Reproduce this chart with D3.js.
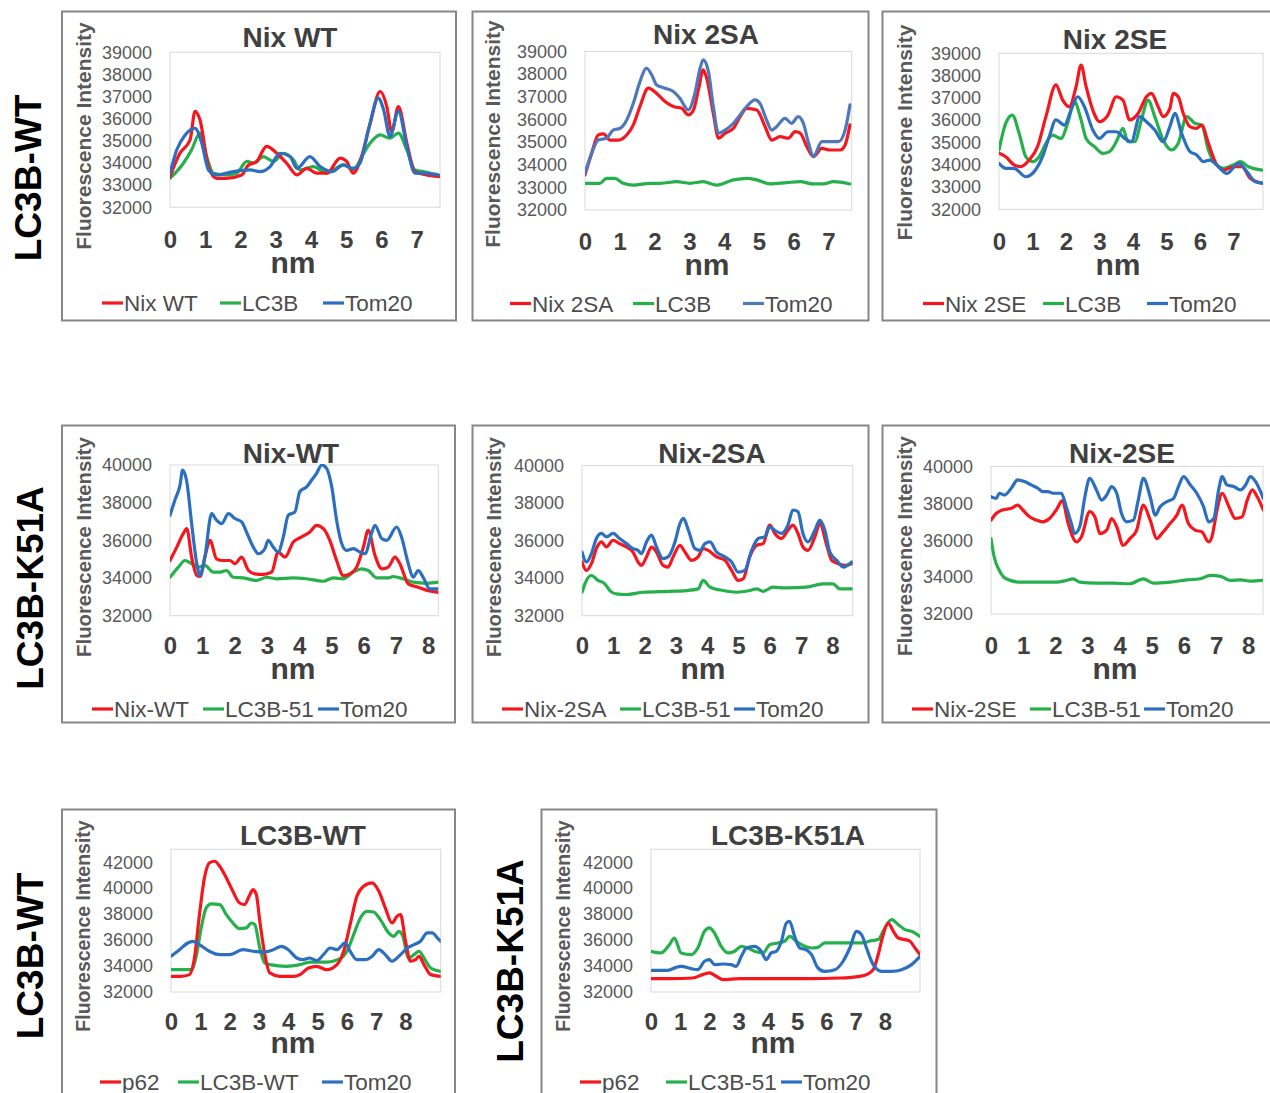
<!DOCTYPE html>
<html>
<head>
<meta charset="utf-8">
<script src="https://cdn.jsdelivr.net/npm/d3@7"></script>
<style>
  body { margin: 0; background: #fff; }
  svg { display: block; }
  text { font-family: "Liberation Sans", Arial, Helvetica, sans-serif; }
</style>
</head>
<body>
<svg id="fig" width="1270" height="1093"></svg>
<script>
// ---- Line-scan profiles: [distance (nm), fluorescence intensity] ----

// Row 1 (LC3B-WT): Nix WT
const p1Nix = [[0,33390],[0.28,34440],[0.57,35050],[0.71,36330],[0.85,35950],[1.09,33840],[1.32,33310],[1.6,33310],[2.03,33460],[2.22,33900],[2.46,34070],[2.74,34750],[3.03,34440],[3.31,33990],[3.6,33460],[3.88,33760],[4.16,33540],[4.45,33540],[4.83,34220],[5.01,34070],[5.2,33540],[5.39,34070],[5.68,35800],[5.96,37230],[6.15,36550],[6.29,35420],[6.48,36550],[6.72,34900],[6.95,33610],[7.28,33460],[7.62,33390]];
const p1LC3B = [[0,33310],[0.38,33990],[0.61,34590],[0.85,35350],[1.04,34290],[1.23,33540],[1.6,33460],[1.89,33540],[2.18,34070],[2.37,33990],[2.65,34290],[2.93,34070],[3.22,34440],[3.5,34140],[3.69,33690],[4.07,33840],[4.45,33540],[4.64,33690],[4.92,33920],[5.2,33690],[5.49,34440],[5.68,34900],[5.96,35270],[6.24,35120],[6.48,35350],[6.72,34590],[6.95,33690],[7.19,33610],[7.62,33390]];
const p1Tom20 = [[0,33540],[0.19,34590],[0.43,35270],[0.71,35570],[0.9,34900],[1.09,33690],[1.32,33460],[1.8,33610],[2.27,33690],[2.55,33610],[2.84,33840],[3.12,34440],[3.41,34290],[3.6,33760],[3.97,34290],[4.26,33840],[4.59,33610],[4.92,33920],[5.2,33760],[5.39,33990],[5.63,35500],[5.91,36930],[6.06,36400],[6.24,35200],[6.48,36330],[6.72,34750],[6.95,33540],[7.28,33540],[7.62,33460]];

// Row 1: Nix 2SA
const p2Nix = [[0,33550],[0.19,34500],[0.38,35310],[0.53,35360],[0.72,35090],[0.96,35090],[1.2,35310],[1.39,35760],[1.58,36570],[1.82,37380],[2.06,37150],[2.3,36790],[2.54,36570],[2.78,36490],[2.97,36200],[3.12,36420],[3.26,37300],[3.4,38190],[3.5,37820],[3.69,36270],[3.84,35170],[4.03,35390],[4.27,35610],[4.46,36120],[4.65,36490],[4.94,36420],[5.18,35680],[5.37,35090],[5.61,35240],[5.85,35170],[6.04,35460],[6.19,35390],[6.38,34800],[6.57,34360],[6.81,34720],[7.05,34650],[7.34,34650],[7.48,34870],[7.62,35760]];
const p2LC3B = [[0,33180],[0.43,33180],[0.62,33400],[0.86,33400],[1.1,33180],[1.39,33100],[1.87,33180],[2.16,33180],[2.64,33250],[3.02,33180],[3.4,33250],[3.79,33100],[4.27,33330],[4.65,33400],[4.94,33330],[5.32,33150],[5.8,33210],[6.19,33250],[6.57,33150],[6.86,33150],[7.15,33250],[7.62,33150]];
const p2Tom20 = [[0,33620],[0.19,34500],[0.38,35090],[0.62,35170],[0.81,35530],[1.01,35610],[1.2,35980],[1.39,36710],[1.58,37670],[1.77,38260],[1.92,37960],[2.06,37520],[2.3,37380],[2.54,37230],[2.73,36930],[2.97,36420],[3.16,37150],[3.31,38260],[3.4,38630],[3.55,38110],[3.69,36570],[3.84,35390],[4.03,35530],[4.27,35830],[4.46,36200],[4.65,36570],[4.89,36860],[5.03,36710],[5.22,35980],[5.37,35530],[5.51,35680],[5.75,36050],[5.94,35830],[6.13,36120],[6.28,35830],[6.43,34950],[6.57,34360],[6.81,35020],[7.05,35020],[7.29,35020],[7.48,35530],[7.62,36640]];

// Row 1: Nix 2SE
const p3Nix = [[0,34510],[0.2,34360],[0.45,33990],[0.65,33910],[0.9,34210],[1.15,34810],[1.4,36160],[1.7,37580],[1.9,36900],[2.1,36600],[2.3,37500],[2.45,38470],[2.6,37500],[2.8,36450],[3.0,35930],[3.25,36230],[3.5,37050],[3.7,36900],[3.9,36010],[4.15,36300],[4.4,37050],[4.55,37200],[4.75,36600],[4.9,36160],[5.1,36530],[5.2,37200],[5.35,37050],[5.5,36300],[5.7,35710],[5.9,35630],[6.05,35780],[6.25,34960],[6.45,34140],[6.7,33760],[7.0,33910],[7.25,33910],[7.5,33390],[7.85,33170]];
const p3LC3B = [[0,34660],[0.2,35860],[0.4,36230],[0.6,35410],[0.8,34360],[1.0,34140],[1.2,34360],[1.4,34960],[1.6,35330],[1.85,35180],[2.05,35860],[2.25,36830],[2.45,36010],[2.6,35180],[2.85,34810],[3.1,34510],[3.3,34590],[3.5,35030],[3.7,35630],[3.85,35030],[4.05,35030],[4.25,36010],[4.45,36900],[4.65,36160],[4.9,35110],[5.15,34660],[5.35,34960],[5.6,36160],[5.85,35860],[6.05,35780],[6.25,34660],[6.45,34060],[6.7,33840],[7.0,33990],[7.2,34140],[7.45,33910],[7.85,33760]];
const p3Tom20 = [[0,34060],[0.2,33840],[0.45,33840],[0.8,33460],[1.05,33690],[1.3,34360],[1.5,35260],[1.7,36010],[1.95,35780],[2.15,36450],[2.35,37050],[2.55,36600],[2.8,35560],[3.0,35180],[3.25,35480],[3.5,35480],[3.75,35180],[3.95,35030],[4.2,36160],[4.4,35930],[4.65,35560],[4.9,35030],[5.1,35710],[5.25,36300],[5.45,35410],[5.7,34590],[5.9,34440],[6.1,34140],[6.3,34210],[6.5,33990],[6.8,33610],[7.15,34060],[7.4,33690],[7.65,33240],[7.88,33170]];

// Row 2 (LC3B-K51A): Nix-WT
const p4Nix = [[0,34930],[0.21,35640],[0.41,36360],[0.52,36620],[0.67,35110],[0.83,34130],[0.93,34080],[1.08,35110],[1.24,36000],[1.44,35020],[1.65,34930],[1.86,34930],[2.01,34760],[2.22,35110],[2.43,34400],[2.63,34220],[2.89,34190],[3.15,34310],[3.35,35380],[3.56,35110],[3.82,35910],[4.08,36180],[4.33,36440],[4.54,36800],[4.75,36620],[4.95,36000],[5.16,34930],[5.37,34130],[5.57,34220],[5.78,34580],[5.99,35640],[6.14,36530],[6.35,35200],[6.56,34490],[6.76,34580],[6.97,35110],[7.12,34760],[7.38,33690],[7.69,33510],[8.0,33330],[8.31,33240]];
const p4LC3B = [[0,34040],[0.26,34580],[0.46,34930],[0.67,34760],[0.88,34580],[1.08,34670],[1.34,34310],[1.55,34310],[1.75,34400],[1.96,34040],[2.27,34010],[2.68,33870],[2.99,34040],[3.3,33960],[3.82,34010],[4.23,33960],[4.75,33830],[5.06,34010],[5.37,33960],[5.68,34310],[5.93,34490],[6.14,34400],[6.4,34010],[6.76,34010],[6.91,34080],[7.22,33960],[7.53,33780],[7.95,33720],[8.31,33780]];
const p4Tom20 = [[0,37330],[0.15,38130],[0.31,38930],[0.39,39730],[0.52,39110],[0.67,36890],[0.83,34760],[0.93,34130],[1.08,35110],[1.29,37420],[1.44,37070],[1.6,36890],[1.81,37420],[2.01,37160],[2.22,36980],[2.37,36440],[2.58,35640],[2.74,35290],[2.94,35560],[3.04,36000],[3.2,35640],[3.35,35380],[3.51,36180],[3.66,37330],[3.87,37510],[4.02,38580],[4.23,38840],[4.39,39200],[4.54,39560],[4.7,40000],[4.85,39820],[5.01,38840],[5.16,37070],[5.32,35820],[5.47,35470],[5.68,35560],[5.88,35380],[6.04,35290],[6.24,36360],[6.35,36800],[6.56,36090],[6.71,36000],[7.02,36710],[7.17,36180],[7.38,34760],[7.53,34040],[7.69,34400],[7.84,34040],[8.05,33420],[8.31,33420]];

// Row 2: Nix-2SA
const p5Nix = [[0,34860],[0.14,34410],[0.3,34770],[0.46,35570],[0.62,35930],[0.78,35660],[0.99,36020],[1.2,35840],[1.42,35660],[1.63,35390],[1.79,34860],[1.9,34680],[2.06,35130],[2.22,35660],[2.38,35390],[2.59,34680],[2.75,34590],[2.91,35130],[3.13,35750],[3.29,35390],[3.5,34950],[3.71,35130],[3.87,35570],[4.03,35480],[4.3,35130],[4.57,34950],[4.78,34410],[4.99,33880],[5.15,33960],[5.36,35130],[5.58,35750],[5.79,35840],[6.0,36820],[6.16,36380],[6.37,36110],[6.58,36550],[6.74,36820],[6.9,36380],[7.06,35660],[7.22,35480],[7.44,36200],[7.6,36910],[7.82,35750],[7.98,34950],[8.19,34770],[8.41,34680],[8.62,34770]];
const p5LC3B = [[0,33250],[0.14,33880],[0.3,34140],[0.51,33880],[0.73,33700],[0.89,33340],[1.1,33160],[1.42,33130],[1.95,33250],[2.81,33300],[3.34,33340],[3.71,33430],[3.87,33880],[4.09,33520],[4.51,33340],[4.94,33250],[5.36,33340],[5.58,33430],[5.79,33300],[6.1,33520],[6.53,33480],[7.17,33520],[7.7,33700],[8.02,33700],[8.24,33430],[8.62,33430]];
const p5Tom20 = [[0,35390],[0.14,34860],[0.3,35300],[0.46,36110],[0.62,36380],[0.78,36200],[0.99,36380],[1.2,36110],[1.42,35840],[1.63,35570],[1.79,35480],[1.9,35300],[2.06,35930],[2.22,36290],[2.38,35660],[2.59,35040],[2.75,35130],[2.97,35930],[3.13,36910],[3.24,37180],[3.4,36550],[3.61,35570],[3.77,35480],[3.93,35840],[4.09,35930],[4.3,35390],[4.57,35130],[4.78,34860],[4.99,34320],[5.2,34410],[5.42,35480],[5.63,36110],[5.84,36200],[6.0,36730],[6.16,36550],[6.37,36380],[6.58,36820],[6.74,37630],[6.9,37540],[7.06,36380],[7.22,35930],[7.44,36550],[7.6,37090],[7.76,36550],[7.92,35390],[8.14,34950],[8.35,34590],[8.62,34860]];

// Row 2: Nix-2SE
const p6Nix = [[0,37090],[0.16,37450],[0.36,37640],[0.63,37730],[0.83,37910],[0.99,37640],[1.2,37270],[1.41,37090],[1.61,37000],[1.82,37180],[2.03,37640],[2.22,38150],[2.4,36910],[2.66,35910],[2.81,36180],[3.07,37550],[3.23,37270],[3.39,36360],[3.6,36550],[3.75,37180],[3.91,36730],[4.11,35730],[4.32,36090],[4.53,36550],[4.74,37910],[4.95,37090],[5.16,36090],[5.31,36360],[5.57,36910],[5.78,37360],[5.94,37910],[6.14,36910],[6.35,36550],[6.56,36450],[6.77,35910],[6.87,36180],[7.03,37640],[7.19,38550],[7.4,37820],[7.6,37180],[7.81,37270],[7.97,38180],[8.13,38730],[8.28,38360],[8.47,37640]];
const p6LC3B = [[0,36090],[0.1,35090],[0.26,34360],[0.47,33910],[0.89,33730],[1.51,33730],[2.03,33730],[2.34,33820],[2.55,33910],[2.76,33730],[3.28,33670],[3.8,33670],[4.32,33640],[4.74,33910],[5.05,33670],[5.57,33730],[6.09,33850],[6.51,33910],[6.82,34090],[7.14,34040],[7.45,33820],[7.76,33850],[8.07,33780],[8.47,33820]];
const p6Tom20 = [[0,38360],[0.16,38270],[0.26,38550],[0.42,38450],[0.63,38820],[0.83,39270],[1.04,39180],[1.25,39000],[1.46,38820],[1.61,38640],[1.77,38640],[1.93,38550],[2.19,38550],[2.34,37820],[2.5,36910],[2.6,36360],[2.76,36730],[2.92,38360],[3.07,39360],[3.28,38730],[3.44,38180],[3.6,38450],[3.75,38910],[3.91,38550],[4.06,37450],[4.22,37000],[4.43,37090],[4.58,38180],[4.74,39360],[4.95,38360],[5.11,37360],[5.26,37820],[5.47,38090],[5.68,38270],[5.83,38910],[5.99,39450],[6.2,39000],[6.4,38550],[6.61,37820],[6.77,37000],[6.93,37180],[7.08,38730],[7.19,39450],[7.34,39000],[7.55,38910],[7.76,38730],[7.92,39000],[8.07,39450],[8.23,39180],[8.47,38270]];

// Row 3: LC3B-WT with p62
const p7P62 = [[0,33210],[0.34,33210],[0.63,33340],[0.8,34620],[0.97,37960],[1.14,40790],[1.31,41950],[1.49,42080],[1.66,41690],[1.89,40790],[2.11,39760],[2.34,38860],[2.51,38740],[2.69,39510],[2.8,39890],[2.91,39510],[3.03,37450],[3.2,34880],[3.37,33470],[3.71,33210],[4.17,33210],[4.4,33340],[4.69,33850],[4.97,33980],[5.31,33720],[5.66,34110],[5.89,35140],[6.11,37190],[6.34,39380],[6.57,40150],[6.86,40410],[7.09,39760],[7.31,38480],[7.54,37320],[7.71,37840],[7.83,37960],[8.0,35910],[8.17,34370],[8.34,34490],[8.46,34750],[8.63,34110],[8.86,33340],[9.2,33210]];
const p7LC3B = [[0,33720],[0.4,33720],[0.69,33720],[0.86,34750],[1.03,36940],[1.2,38480],[1.37,38790],[1.66,38740],[1.89,37960],[2.11,37320],[2.34,36880],[2.57,36940],[2.74,37320],[2.86,37190],[3.03,35390],[3.2,34240],[3.37,34110],[3.94,33980],[4.4,34110],[4.74,34310],[5.31,34310],[5.77,34570],[6.0,35140],[6.23,36420],[6.46,37710],[6.69,38220],[6.91,38170],[7.14,37580],[7.43,36550],[7.6,36290],[7.77,36680],[7.89,36420],[8.11,34620],[8.29,34880],[8.46,35140],[8.63,34620],[8.86,33850],[9.2,33590]];
const p7Tom20 = [[0,34750],[0.29,35260],[0.57,35780],[0.74,35910],[0.97,35650],[1.31,35140],[1.66,34880],[2.0,34880],[2.46,35260],[2.8,35140],[3.14,35080],[3.49,35260],[3.77,35520],[4.0,35260],[4.29,34620],[4.51,34490],[4.74,34620],[4.97,34420],[5.2,34880],[5.43,35390],[5.66,35260],[5.94,35780],[6.11,35140],[6.34,34490],[6.63,34490],[6.86,34750],[7.09,35260],[7.31,34880],[7.54,34370],[7.83,34880],[8.06,35390],[8.29,35650],[8.51,35910],[8.74,36550],[8.91,36550],[9.09,36160],[9.2,35910]];

// Row 3: LC3B-K51A with p62
const p8P62 = [[0,33030],[0.74,33030],[1.43,33080],[1.77,33340],[2.0,33470],[2.23,33210],[2.46,32950],[3.03,33030],[4.17,33030],[5.31,33030],[6.46,33080],[7.14,33210],[7.37,33340],[7.6,33720],[7.77,34880],[7.94,36420],[8.11,37320],[8.29,36680],[8.46,36160],[8.69,36040],[8.86,35910],[9.03,35390],[9.2,34880]];
const p8LC3B = [[0,35140],[0.34,35010],[0.63,35650],[0.8,36160],[1.03,35010],[1.37,34880],[1.6,35390],[1.83,36680],[2.0,36940],[2.17,36550],[2.4,35520],[2.63,35010],[2.86,35140],[3.09,35520],[3.31,35390],[3.54,35140],[3.83,35010],[4.06,35650],[4.34,35780],[4.57,35910],[4.74,36290],[4.97,35910],[5.26,35520],[5.49,35390],[5.71,35440],[5.94,35780],[6.29,35780],[6.74,35780],[7.2,35780],[7.54,35960],[7.77,36040],[8.0,36940],[8.23,37580],[8.46,37190],[8.69,36810],[8.91,36680],[9.2,36290]];
const p8Tom20 = [[0,33670],[0.57,33670],[0.86,33900],[1.03,33980],[1.37,33800],[1.6,33720],[1.83,34370],[2.0,34490],[2.17,34110],[2.46,34160],[2.74,34110],[2.91,33980],[3.09,34750],[3.26,35390],[3.54,35520],[3.77,35140],[3.94,34490],[4.11,35010],[4.29,35140],[4.46,35910],[4.63,37320],[4.74,37450],[4.91,36290],[5.09,35390],[5.31,35260],[5.49,34880],[5.71,33850],[5.94,33590],[6.29,33720],[6.57,34370],[6.8,35390],[7.03,36680],[7.2,36420],[7.37,35390],[7.6,34110],[7.89,33590],[8.23,33590],[8.57,33720],[8.91,34110],[9.2,34750]];

// ---- Axis tick labels ----
const yTicksRow1 = [32000, 33000, 34000, 35000, 36000, 37000, 38000, 39000];
const yTicksRow2 = [32000, 34000, 36000, 38000, 40000];
const yTicksRow3 = [32000, 34000, 36000, 38000, 40000, 42000];
const xTicks0to7 = [0, 1, 2, 3, 4, 5, 6, 7];
const xTicks0to8 = [0, 1, 2, 3, 4, 5, 6, 7, 8];

// ---- Series colours ----
const RED = "#f5161e", GREEN = "#25b04b", BLUE = "#2c6ec0", STEEL = "#4f78ba";

const panels = [
  { title: "Nix WT", titleX: 290, titleY: 47, box: [62, 11.5, 394, 309],
    xr: [170, 440], xMax: 7.66, yr: [207.3, 52.3], yDom: [32000, 39000], yTicks: yTicksRow1, xTicks: xTicks0to7,
    xTickBase: 248, nmX: 293, nmY: 273, yTitle: "Fluorescence Intensity", ytX: 84, ytY: 136, ytSize: 21,
    names: ["Nix WT", "LC3B", "Tom20"], series: [p1Nix, p1LC3B, p1Tom20], colors: [RED, GREEN, BLUE],
    legX: [102, 220, 323], legY: 311 },
  { title: "Nix 2SA", titleX: 706, titleY: 43.5, box: [472.5, 11.5, 396, 309],
    xr: [585, 851.7], xMax: 7.67, yr: [210, 51.5], yDom: [32000, 39000], yTicks: yTicksRow1, xTicks: xTicks0to7,
    xTickBase: 250, nmX: 707, nmY: 275, yTitle: "Fluorescence Intensity", ytX: 493, ytY: 134, ytSize: 21,
    names: ["Nix 2SA", "LC3B", "Tom20"], series: [p2Nix, p2LC3B, p2Tom20], colors: [RED, GREEN, STEEL],
    legX: [510, 633, 743], legY: 311.5 },
  { title: "Nix 2SE", titleX: 1115, titleY: 48.5, box: [882.5, 11.5, 400, 309],
    xr: [999, 1263], xMax: 7.88, yr: [209.3, 53.3], yDom: [32000, 39000], yTicks: yTicksRow1, xTicks: xTicks0to7,
    xTickBase: 250, nmX: 1118, nmY: 275, yTitle: "Fluorescene Intensity", ytX: 905, ytY: 132.5, ytSize: 21,
    names: ["Nix 2SE", "LC3B", "Tom20"], series: [p3Nix, p3LC3B, p3Tom20], colors: [RED, GREEN, BLUE],
    legX: [923, 1043, 1147], legY: 311.5 },
  { title: "Nix-WT", titleX: 291, titleY: 462.5, box: [62, 425.5, 393, 297],
    xr: [170, 438.3], xMax: 8.31, yr: [615.7, 465], yDom: [32000, 40000], yTicks: yTicksRow2, xTicks: xTicks0to8,
    xTickBase: 654, nmX: 293, nmY: 679, yTitle: "Fluorescence Intensity", ytX: 83.5, ytY: 547, ytSize: 20.3,
    names: ["Nix-WT", "LC3B-51", "Tom20"], series: [p4Nix, p4LC3B, p4Tom20], colors: [RED, GREEN, BLUE],
    legX: [92, 203, 318], legY: 717 },
  { title: "Nix-2SA", titleX: 712, titleY: 462.5, box: [472.5, 425.5, 396, 297],
    xr: [582, 852.7], xMax: 8.65, yr: [615.7, 465.5], yDom: [32000, 40000], yTicks: yTicksRow2, xTicks: xTicks0to8,
    xTickBase: 654, nmX: 703, nmY: 679, yTitle: "Fluorescence Intensity", ytX: 493.5, ytY: 547, ytSize: 20.3,
    names: ["Nix-2SA", "LC3B-51", "Tom20"], series: [p5Nix, p5LC3B, p5Tom20], colors: [RED, GREEN, BLUE],
    legX: [502, 620, 734], legY: 717 },
  { title: "Nix-2SE", titleX: 1122, titleY: 462.5, box: [882.5, 425.5, 400, 297],
    xr: [991, 1263], xMax: 8.46, yr: [614, 466.5], yDom: [32000, 40000], yTicks: yTicksRow2, xTicks: xTicks0to8,
    xTickBase: 654, nmX: 1115, nmY: 679, yTitle: "Fluorescence Intensity", ytX: 905, ytY: 546, ytSize: 20.3,
    names: ["Nix-2SE", "LC3B-51", "Tom20"], series: [p6Nix, p6LC3B, p6Tom20], colors: [RED, GREEN, BLUE],
    legX: [912, 1030, 1144], legY: 717 },
  { title: "LC3B-WT", titleX: 303, titleY: 845, box: [62, 809.5, 393, 300],
    xr: [171, 440.7], xMax: 9.2, yr: [992, 849.3], yDom: [32000, 43000], yTicks: yTicksRow3, xTicks: xTicks0to8,
    xTickBase: 1029.7, nmX: 293, nmY: 1053, yTitle: "Fluorescence Intensity", ytX: 83.5, ytY: 926, ytSize: 19.5,
    names: ["p62", "LC3B-WT", "Tom20"], series: [p7P62, p7LC3B, p7Tom20], colors: [RED, GREEN, BLUE],
    legX: [100, 178, 322], legY: 1090 },
  { title: "LC3B-K51A", titleX: 788, titleY: 845, box: [541.5, 809.5, 395, 300],
    xr: [651, 920], xMax: 9.2, yr: [992, 849.3], yDom: [32000, 43000], yTicks: yTicksRow3, xTicks: xTicks0to8,
    xTickBase: 1029.7, nmX: 773, nmY: 1053, yTitle: "Fluorescence Intensity", ytX: 563.5, ytY: 926, ytSize: 19.5,
    names: ["p62", "LC3B-51", "Tom20"], series: [p8P62, p8LC3B, p8Tom20], colors: [RED, GREEN, BLUE],
    legX: [580, 666, 781], legY: 1090 }
];

// Row headings (construct used in each row of panels)
const rowLabels = [
  { text: "LC3B-WT", x: 28, y: 178 },
  { text: "LC3B-K51A", x: 30, y: 588 },
  { text: "LC3B-WT", x: 30, y: 956 },
  { text: "LC3B-K51A", x: 510, y: 961 }
];

const svg = d3.select("#fig");
svg.append("rect").attr("width", 1270).attr("height", 1093).attr("fill", "#fff");

panels.forEach((p, i) => {
  const g = svg.append("g");

  // outer panel border
  g.append("rect")
    .attr("x", p.box[0]).attr("y", p.box[1]).attr("width", p.box[2]).attr("height", p.box[3])
    .attr("fill", "#fff").attr("stroke", "#878787").attr("stroke-width", 2);

  const x = d3.scaleLinear().domain([0, p.xMax]).range(p.xr);
  const y = d3.scaleLinear().domain(p.yDom).range(p.yr);

  // plot area frame
  g.append("rect")
    .attr("x", p.xr[0]).attr("y", p.yr[1])
    .attr("width", p.xr[1] - p.xr[0]).attr("height", p.yr[0] - p.yr[1])
    .attr("fill", "#fff").attr("stroke", "#d9d9d9").attr("stroke-width", 1);

  // title
  g.append("text")
    .attr("x", p.titleX).attr("y", p.titleY).attr("text-anchor", "middle")
    .attr("font-size", 28).attr("font-weight", "bold").attr("fill", "#404040")
    .text(p.title);

  // y axis
  const ya = g.append("g").attr("transform", `translate(${p.xr[0]},0)`)
    .call(d3.axisLeft(y).tickValues(p.yTicks).tickSize(0).tickPadding(18).tickFormat(d3.format("d")));
  ya.select(".domain").remove();
  ya.selectAll("text").attr("font-size", 18).attr("fill", "#595959")
    .style("font-family", '"Liberation Sans", Arial, sans-serif');

  // x axis
  const xa = g.append("g").attr("transform", `translate(0,${p.yr[0]})`)
    .call(d3.axisBottom(x).tickValues(p.xTicks).tickSize(0)
      .tickPadding(p.xTickBase - p.yr[0] - 17).tickFormat(d3.format("d")));
  xa.select(".domain").remove();
  xa.selectAll("text").attr("font-size", 24).attr("font-weight", "bold").attr("fill", "#404040")
    .style("font-family", '"Liberation Sans", Arial, sans-serif');

  // x axis title
  g.append("text")
    .attr("x", p.nmX).attr("y", p.nmY).attr("text-anchor", "middle")
    .attr("font-size", 30).attr("font-weight", "bold").attr("fill", "#404040")
    .text("nm");

  // y axis title
  g.append("text")
    .attr("transform", `translate(${p.ytX},${p.ytY}) rotate(-90)`)
    .attr("text-anchor", "middle").attr("dy", "0.35em")
    .attr("font-size", p.ytSize).attr("font-weight", "bold").attr("fill", "#595959")
    .text(p.yTitle);

  // data lines, clipped to the plot area
  const clipId = "clip" + i;
  svg.append("clipPath").attr("id", clipId).append("rect")
    .attr("x", p.xr[0]).attr("y", p.yr[1] - 1)
    .attr("width", p.xr[1] - p.xr[0]).attr("height", p.yr[0] - p.yr[1] + 2);

  const line = d3.line().x(d => x(d[0])).y(d => y(d[1])).curve(d3.curveMonotoneX);
  const lines = g.append("g").attr("clip-path", `url(#${clipId})`);
  // LC3B first, then the marker protein, then Tom20 on top
  [1, 0, 2].forEach(k => {
    lines.append("path")
      .datum(p.series[k])
      .attr("d", line)
      .attr("fill", "none")
      .attr("stroke", p.colors[k])
      .attr("stroke-width", 3.2)
      .attr("stroke-linejoin", "round")
      .attr("stroke-linecap", "round");
  });

  // legend
  p.names.forEach((name, k) => {
    const lx = p.legX[k];
    g.append("line")
      .attr("x1", lx).attr("x2", lx + 21)
      .attr("y1", p.legY - 8).attr("y2", p.legY - 8)
      .attr("stroke", p.colors[k]).attr("stroke-width", 3.2);
    g.append("text")
      .attr("x", lx + 22).attr("y", p.legY)
      .attr("font-size", 22.5).attr("fill", "#4d4d4d")
      .text(name);
  });
});

// row headings
rowLabels.forEach(r => {
  svg.append("text")
    .attr("transform", `translate(${r.x},${r.y}) rotate(-90)`)
    .attr("text-anchor", "middle").attr("dy", "0.36em")
    .attr("font-size", 37).attr("font-weight", "bold").attr("fill", "#000")
    .text(r.text);
});
</script>
</body>
</html>
